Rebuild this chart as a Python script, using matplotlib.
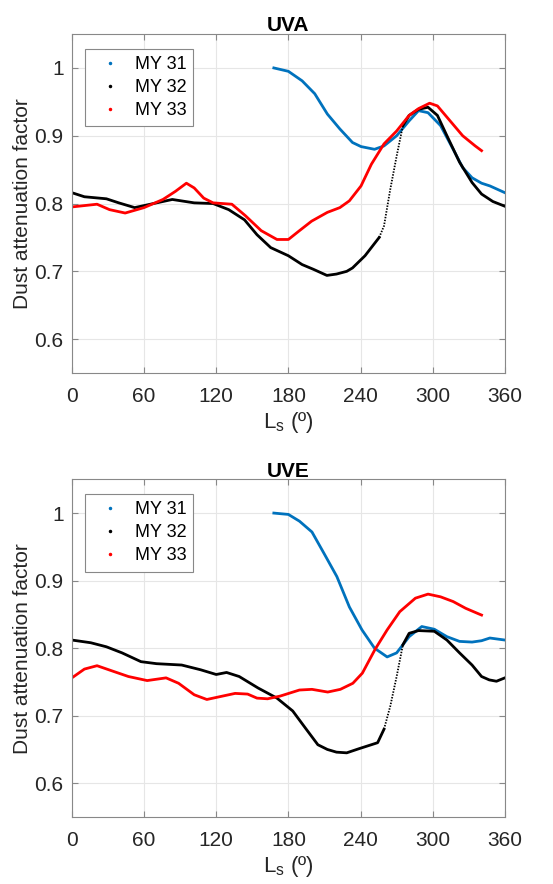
import numpy as np
import matplotlib
matplotlib.use("Agg")
import matplotlib.pyplot as plt
from matplotlib.lines import Line2D

plt.rcParams['font.family'] = ['Liberation Sans', 'DejaVu Sans']
plt.rcParams['mathtext.fontset'] = 'custom'
plt.rcParams['mathtext.rm'] = 'Liberation Sans'

BLUE = '#0072BD'
BLACK = '#000000'
RED = '#FF0000'

# ---- UVA ----
uva_my31_ls = [167.9, 180, 191.4, 201.9, 212.4, 222.8, 233.3, 240.4, 251.6, 259.5, 270, 280.4, 288.2, 296.1,
               306.5, 317, 324.9, 332.7, 340.6, 347.5, 360]
uva_my31 = [1.0, 0.995, 0.981, 0.962, 0.932, 0.910, 0.890, 0.884, 0.880, 0.885, 0.900, 0.922, 0.937, 0.934,
            0.915, 0.880, 0.853, 0.838, 0.830, 0.826, 0.816]

uva_my32_ls = [0, 10.4, 28.7, 39, 52.2, 65.2, 83.5, 101.7, 117.4, 130.4, 143.5, 153.9, 165.3, 180, 191.4,
               200.8, 212, 220, 228.5, 233.3, 243.7, 255.5]
uva_my32 = [0.816, 0.810, 0.807, 0.801, 0.794, 0.799, 0.806, 0.801, 0.800, 0.791, 0.776, 0.754, 0.735, 0.723, 0.710,
            0.703, 0.694, 0.696, 0.700, 0.705, 0.723, 0.750]
uva_gap_ls = [255.5, 259.5, 264.7, 270, 275.2]
uva_gap = [0.750, 0.767, 0.821, 0.870, 0.915]
uva_my32b_ls = [275.2, 280.4, 288.2, 296.1, 303.9, 311.8, 322.3, 332.7, 340.6, 350, 360]
uva_my32b = [0.915, 0.930, 0.939, 0.942, 0.930, 0.900, 0.861, 0.831, 0.814, 0.803, 0.796]

uva_my33_ls = [0, 20.9, 31.3, 44.3, 60, 75.7, 86.1, 95.2, 101.7, 109.6, 117.4, 133, 144.3, 157.4, 170.5, 180,
               189.2, 199.3, 212.4, 222.8, 230.7, 240.4, 249, 259.5, 270, 280.4, 288.2, 297.4, 303.9, 314.4,
               324.9, 335.3, 340.6]
uva_my33 = [0.795, 0.799, 0.791, 0.786, 0.794, 0.806, 0.818, 0.830, 0.823, 0.808, 0.801, 0.799, 0.782, 0.760, 0.747, 0.747,
            0.760, 0.774, 0.787, 0.794, 0.804, 0.826, 0.858, 0.888, 0.907, 0.930, 0.940, 0.948, 0.944, 0.922,
            0.900, 0.885, 0.878]

# ---- UVE ----
uve_my31_ls = [167.9, 180, 189.2, 199.6, 209.7, 220.3, 230.7, 241.2, 251.6, 262.1, 270, 280.4, 290.9, 301.3,
               311.8, 322.3, 332.7, 340.6, 347.5, 360]
uve_my31 = [1.0, 0.998, 0.988, 0.972, 0.940, 0.906, 0.861, 0.827, 0.800, 0.787, 0.793, 0.817, 0.832, 0.828,
            0.817, 0.810, 0.809, 0.811, 0.815, 0.812]

uve_my32_ls = [0, 15.7, 28.7, 41.7, 57.4, 70.4, 91.3, 107, 120, 128.6, 139.1, 154.8, 170.5, 183.6, 194, 204.5,
               212.4, 220, 228.5, 238.5, 254.2, 259.5]
uve_my32 = [0.812, 0.808, 0.802, 0.793, 0.780, 0.777, 0.775, 0.768, 0.761, 0.764, 0.758, 0.741, 0.726, 0.707, 0.682, 0.657,
            0.650, 0.646, 0.645, 0.651, 0.660, 0.680]
uve_gap_ls = [259.5, 264.7, 270, 275.2]
uve_gap = [0.680, 0.714, 0.758, 0.805]
uve_my32b_ls = [275.2, 280.4, 288.2, 301.3, 311.8, 322.3, 332.7, 340.6, 347, 353, 360]
uve_my32b = [0.805, 0.822, 0.826, 0.825, 0.812, 0.793, 0.775, 0.758, 0.753, 0.751, 0.756]

uve_my33_ls = [0, 10.4, 20.9, 33.9, 47, 62.6, 78.3, 88.7, 101.7, 112.2, 122.6, 135.7, 146.1, 153.9, 162.7, 173.1,
               189.2, 199.6, 212.7, 223.2, 233.6, 241.5, 252, 262.1, 272.6, 285.6, 296.1, 306.5, 317, 327.4,
               337.9, 340.6]
uve_my33 = [0.756, 0.769, 0.774, 0.766, 0.758, 0.752, 0.756, 0.748, 0.731, 0.724, 0.728, 0.733, 0.732, 0.726, 0.725, 0.729,
            0.738, 0.739, 0.735, 0.739, 0.748, 0.763, 0.798, 0.827, 0.854, 0.874, 0.880, 0.876, 0.869, 0.859,
            0.851, 0.849]

panels = [
    ('UVA', [0.130, 0.578, 0.783, 0.3835],
     (uva_my31_ls, uva_my31), (uva_my32_ls, uva_my32), (uva_gap_ls, uva_gap),
     (uva_my32b_ls, uva_my32b), (uva_my33_ls, uva_my33)),
    ('UVE', [0.130, 0.0758, 0.783, 0.382],
     (uve_my31_ls, uve_my31), (uve_my32_ls, uve_my32), (uve_gap_ls, uve_gap),
     (uve_my32b_ls, uve_my32b), (uve_my33_ls, uve_my33)),
]

fig = plt.figure(figsize=(5.53, 8.84), dpi=100)

for title, rect, s31, s32a, gap, s32b, s33 in panels:
    ax = fig.add_axes(rect)
    lw = 2.0
    ax.plot(s31[0], s31[1], color=BLUE, lw=lw, solid_joinstyle='round')
    ax.plot(s32a[0], s32a[1], color=BLACK, lw=lw, solid_joinstyle='round')
    # sparse points where MY 32 has a data gap
    ax.plot(gap[0], gap[1], color=BLACK, lw=1.3, ls=(0, (0.8, 0.8)))
    ax.plot(s32b[0], s32b[1], color=BLACK, lw=lw, solid_joinstyle='round')
    ax.plot(s33[0], s33[1], color=RED, lw=lw, solid_joinstyle='round')

    ax.set_xlim(0, 360)
    ax.set_ylim(0.55, 1.05)
    ax.set_xticks(np.arange(0, 361, 60))
    ax.set_yticks([0.6, 0.7, 0.8, 0.9, 1.0])
    ax.set_yticklabels(['0.6', '0.7', '0.8', '0.9', '1'])
    ax.grid(True, color='#e6e6e6', lw=0.8)
    ax.set_axisbelow(True)
    for sp in ax.spines.values():
        sp.set_color('#888888')
        sp.set_linewidth(0.8)
    ax.tick_params(colors='#262626', labelsize=15, direction='in', length=4, top=True, right=True)
    ax.tick_params(axis='x', pad=10)
    ax.tick_params(axis='y', pad=6)
    ax.tick_params(axis='both', color='#888888')
    ax.set_title(title, fontsize=15, fontweight='bold', pad=2)
    ax.set_xlabel(r'L$_\mathrm{s}$ (º)', fontsize=16, color='#262626', labelpad=3)
    ax.set_ylabel('Dust attenuation factor', fontsize=15, color='#262626', labelpad=2)

    handles = [Line2D([], [], ls='none', marker='.', markersize=3, color=c) for c in (BLUE, BLACK, RED)]
    leg = ax.legend(handles, ['MY 31', 'MY 32', 'MY 33'], loc='upper left',
                    bbox_to_anchor=(0.03, 0.956), fontsize=13, fancybox=False,
                    framealpha=1, edgecolor='#888888', handlelength=2.0,
                    handletextpad=0.35, borderpad=0.4, labelspacing=0.33,
                    borderaxespad=0)
    leg.get_frame().set_linewidth(0.8)

fig.savefig('out.png', dpi=100)
